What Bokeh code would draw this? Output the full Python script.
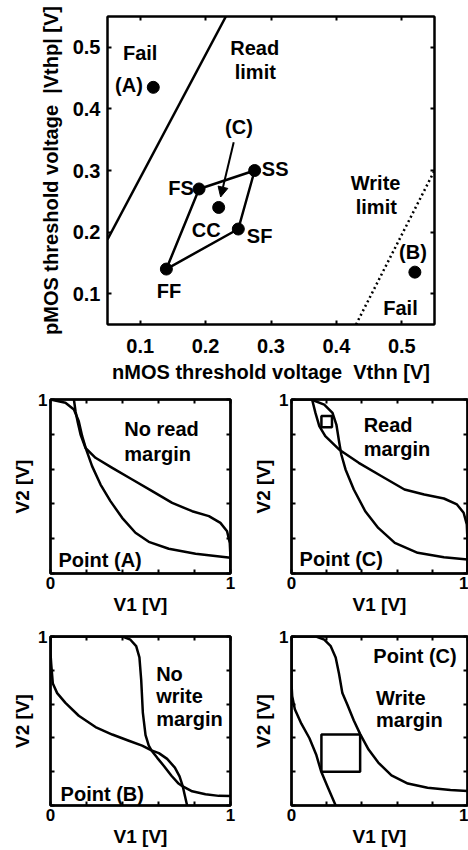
from bokeh.plotting import figure
from bokeh.models import LinearAxis, FixedTicker, Arrow, NormalHead
from bokeh.layouts import column, row
from bokeh.embed import file_html
from bokeh.resources import INLINE
from bokeh.core.properties import value

FONT = "Liberation Sans"

# ---------------- top chart data ----------------
top_ticks = [0.1, 0.2, 0.3, 0.4, 0.5]
corner_names = ["FF", "FS", "SS", "SF"]
corner_vthn = [0.14, 0.19, 0.275, 0.25]
corner_vthp = [0.14, 0.27, 0.30, 0.205]
cc_vthn = [0.22]
cc_vthp = [0.24]
fail_pts_vthn = [0.12, 0.52]      # points (A) and (B)
fail_pts_vthp = [0.435, 0.135]
read_limit_vthn = [0.05, 0.231]
read_limit_vthp = [0.188, 0.55]
write_limit_vthn = [0.43, 0.55]
write_limit_vthp = [0.05, 0.30]
arrow_c = [0.243, 0.346, 0.223, 0.257]   # x_start, y_start, x_end, y_end

top_text_center = ["Fail", "Read", "limit", "(C)", "CC", "FF", "Write", "limit", "(B)", "Fail"]
top_text_center_x = [0.10, 0.275, 0.276, 0.251, 0.201, 0.144, 0.46, 0.461, 0.517, 0.498]
top_text_center_y = [0.49, 0.499, 0.46, 0.37, 0.204, 0.105, 0.28, 0.24, 0.167, 0.077]
top_text_left = ["SS", "SF"]
top_text_left_x = [0.286, 0.263]
top_text_left_y = [0.303, 0.193]
top_text_right = ["(A)", "FS"]
top_text_right_x = [0.104, 0.182]
top_text_right_y = [0.438, 0.272]

# ---------------- butterfly panels data ----------------
v_ticks = [0.0, 0.2, 0.4, 0.6, 0.8, 1.0]
v1_tick_labels = ["0", "", "", "", "", "1"]
v2_tick_labels = ["", "", "", "", "", "1"]

# Point (A): no read margin
a1_v1 = [0.0, 0.083, 0.13, 0.157, 0.176, 0.198, 0.231, 0.278, 0.333, 0.398, 0.472, 0.546, 0.657, 0.806, 1.0]
a1_v2 = [1.0, 0.981, 0.943, 0.875, 0.789, 0.713, 0.617, 0.511, 0.416, 0.32, 0.234, 0.182, 0.142, 0.113, 0.09]
a2_v1 = [0.13, 0.139, 0.152, 0.167, 0.194, 0.25, 0.343, 0.454, 0.565, 0.676, 0.787, 0.88, 0.944, 0.981, 0.996, 1.0, 1.0]
a2_v2 = [1.0, 0.933, 0.866, 0.799, 0.722, 0.665, 0.607, 0.54, 0.473, 0.406, 0.358, 0.33, 0.291, 0.243, 0.176, 0.09, 0.0]

# Point (C): read margin
c1_v1 = [0.0, 0.112, 0.186, 0.233, 0.255, 0.27, 0.283, 0.307, 0.354, 0.419, 0.493, 0.587, 0.717, 0.866, 1.0]
c1_v2 = [1.0, 1.0, 0.971, 0.923, 0.856, 0.76, 0.684, 0.598, 0.483, 0.358, 0.262, 0.176, 0.119, 0.094, 0.08]
c2_v1 = [0.117, 0.136, 0.158, 0.192, 0.27, 0.382, 0.512, 0.642, 0.754, 0.866, 0.94, 0.978, 0.996, 1.0, 1.0]
c2_v2 = [1.0, 0.923, 0.847, 0.789, 0.713, 0.636, 0.559, 0.483, 0.454, 0.431, 0.397, 0.349, 0.282, 0.186, 0.0]
read_square = [0.17, 0.23, 0.84, 0.905]   # left, right, bottom, top

# Point (B): no write margin
b1_v1 = [0.0, 0.40, 0.444, 0.476, 0.494, 0.504, 0.513, 0.528, 0.546, 0.561, 0.602, 0.648, 0.691, 0.717, 0.735, 0.746, 0.759]
b1_v2 = [1.0, 1.0, 0.981, 0.943, 0.876, 0.741, 0.55, 0.416, 0.354, 0.326, 0.31, 0.276, 0.224, 0.172, 0.113, 0.061, 0.0]
b2_v1 = [0.0, 0.0, 0.004, 0.013, 0.037, 0.083, 0.157, 0.25, 0.343, 0.435, 0.509, 0.561, 0.593, 0.63, 0.672, 0.709, 0.735, 0.787, 0.861, 0.935, 1.0]
b2_v2 = [1.0, 0.9, 0.837, 0.722, 0.665, 0.607, 0.531, 0.464, 0.42, 0.383, 0.354, 0.326, 0.282, 0.234, 0.176, 0.132, 0.113, 0.084, 0.067, 0.057, 0.056]

# Point (C): write margin
w1_v1 = [0.0, 0.14, 0.186, 0.223, 0.251, 0.27, 0.289, 0.317, 0.354, 0.391, 0.438, 0.493, 0.568, 0.661, 0.773, 0.903, 1.0]
w1_v2 = [1.0, 1.0, 0.981, 0.943, 0.876, 0.78, 0.665, 0.598, 0.503, 0.421, 0.331, 0.254, 0.178, 0.13, 0.105, 0.092, 0.086]
w2_v1 = [0.0, 0.0, 0.004, 0.019, 0.056, 0.102, 0.14, 0.168, 0.205, 0.251]
w2_v2 = [1.0, 0.72, 0.646, 0.57, 0.484, 0.398, 0.302, 0.203, 0.111, 0.0]
write_square = [0.17, 0.39, 0.20, 0.42]

panel_a_text = [("No read", 0.41, 0.828), ("margin", 0.41, 0.684), ("Point (A)", 0.044, 0.08)]
panel_c_text = [("Read", 0.41, 0.856), ("margin", 0.41, 0.718), ("Point (C)", 0.046, 0.086)]
panel_b_text = [("No", 0.587, 0.78), ("write", 0.587, 0.645), ("margin", 0.587, 0.51), ("Point (B)", 0.056, 0.07)]
panel_w_text = [("Point (C)", 0.465, 0.885), ("Write", 0.48, 0.635), ("margin", 0.48, 0.503)]


def inner_ticks(ax, ticks, overrides=None, lw=2):
    ax.ticker = FixedTicker(ticks=ticks, minor_ticks=[])
    ax.major_tick_in = 4
    ax.major_tick_out = 0
    ax.minor_tick_line_color = None
    ax.major_tick_line_width = lw
    ax.axis_line_width = lw
    ax.major_label_text_font = FONT
    ax.major_label_text_font_style = "bold"
    ax.major_label_text_color = "black"
    ax.axis_label_text_font = FONT
    ax.axis_label_text_font_style = "bold"
    ax.axis_label_text_color = "black"
    if overrides is not None:
        ax.major_label_overrides = overrides


def deco_axis(p, ticks, side):
    ax = LinearAxis()
    inner_ticks(ax, ticks, {t: "" for t in ticks})
    ax.major_label_text_font_size = "1px"
    ax.major_label_standoff = 0
    p.add_layout(ax, side)


# ---------------- top figure ----------------
top = figure(width=468, height=388, x_range=(0.05, 0.55), y_range=(0.05, 0.55),
             output_backend="svg", toolbar_location=None,
             min_border_left=107, min_border_right=34, min_border_top=16, min_border_bottom=64)
top.grid.grid_line_color = None
top.outline_line_color = "black"
top.outline_line_width = 2
top.outline_line_alpha = 1

xa = top.xaxis[0]
inner_ticks(xa, top_ticks)
xa.major_label_text_font_size = "20px"
xa.major_label_standoff = 14
xa.axis_label = "nMOS threshold voltage\u00a0\u00a0Vthn [V]"
xa.axis_label_text_font_size = "20px"
xa.axis_label_standoff = 5

ya = top.yaxis[0]
inner_ticks(ya, top_ticks)
ya.major_label_text_font_size = "20px"
ya.major_label_standoff = 7
ya.axis_label = "pMOS threshold voltage\u00a0\u00a0|Vthp| [V]"
ya.axis_label_text_font_size = "20px"
ya.axis_label_standoff = 8

deco_axis(top, top_ticks, "right")
deco_axis(top, top_ticks, "above")

top.line(read_limit_vthn, read_limit_vthp, line_width=2.5, color="black")
top.line(write_limit_vthn, write_limit_vthp, line_width=2.5, color="black", line_dash="2 3")
poly_x = corner_vthn + [corner_vthn[0]]
poly_y = corner_vthp + [corner_vthp[0]]
top.line(poly_x, poly_y, line_width=2.5, color="black", line_join="round")
top.scatter(corner_vthn, corner_vthp, size=12, color="black")
top.scatter(cc_vthn, cc_vthp, size=12, color="black")
top.scatter(fail_pts_vthn, fail_pts_vthp, size=12, color="black")
top.add_layout(Arrow(end=NormalHead(size=10, fill_color="black", line_color="black"),
                     x_start=arrow_c[0], y_start=arrow_c[1], x_end=arrow_c[2], y_end=arrow_c[3],
                     line_width=2, line_color="black"))

for txt, tx, ty, al in [(top_text_center, top_text_center_x, top_text_center_y, "center"),
                        (top_text_left, top_text_left_x, top_text_left_y, "left"),
                        (top_text_right, top_text_right_x, top_text_right_y, "right")]:
    top.text(x=tx, y=ty, text=txt, text_font=value(FONT), text_font_size="20px",
             text_font_style="bold", text_align=al, text_baseline="middle", text_color="black")


# ---------------- butterfly panels ----------------
def make_panel(width, height, mb_left, mb_right, mb_top, mb_bottom, curves, square, texts):
    p = figure(width=width, height=height, x_range=(0, 1), y_range=(0, 1),
               output_backend="svg", toolbar_location=None,
               min_border_left=mb_left, min_border_right=mb_right,
               min_border_top=mb_top, min_border_bottom=mb_bottom)
    p.grid.grid_line_color = None
    p.outline_line_color = "black"
    p.outline_line_width = 2.5
    p.outline_line_alpha = 1
    xa = p.xaxis[0]
    inner_ticks(xa, v_ticks, {t: s for t, s in zip(v_ticks, v1_tick_labels)})
    xa.major_label_text_font_size = "17px"
    xa.major_label_standoff = 3
    xa.axis_label = "V1 [V]"
    xa.axis_label_text_font_size = "19px"
    xa.axis_label_standoff = 2
    ya = p.yaxis[0]
    inner_ticks(ya, v_ticks, {t: s for t, s in zip(v_ticks, v2_tick_labels)})
    ya.major_label_text_font_size = "17px"
    ya.major_label_standoff = 3
    ya.axis_label = "V2 [V]"
    ya.axis_label_text_font_size = "19px"
    ya.axis_label_standoff = 2
    deco_axis(p, v_ticks, "right")
    deco_axis(p, v_ticks, "above")
    for cx, cy in curves:
        p.line(cx, cy, line_width=2.5, color="black", line_join="round")
    if square is not None:
        p.quad(left=[square[0]], right=[square[1]], bottom=[square[2]], top=[square[3]],
               fill_color=None, line_color="black", line_width=2.5)
    p.text(x=[t[1] for t in texts], y=[t[2] for t in texts], text=[t[0] for t in texts],
           text_font=value(FONT), text_font_size="20px", text_font_style="bold",
           text_align="left", text_baseline="middle", text_color="black")
    return p


pa = make_panel(250, 238, 50, 20, 11, 53, [(a1_v1, a1_v2), (a2_v1, a2_v2)], None, panel_a_text)
pc = make_panel(218, 238, 38, 1, 11, 53, [(c1_v1, c1_v2), (c2_v1, c2_v2)], read_square, panel_c_text)
pb = make_panel(250, 223, 50, 20, 10, 39, [(b1_v1, b1_v2), (b2_v1, b2_v2)], None, panel_b_text)
pw = make_panel(218, 223, 38, 1, 10, 39, [(w1_v1, w1_v2), (w2_v1, w2_v2)], write_square, panel_w_text)

layout = column(top, row(pa, pc), row(pb, pw))

open("out.html", "w").write(file_html(layout, INLINE))
